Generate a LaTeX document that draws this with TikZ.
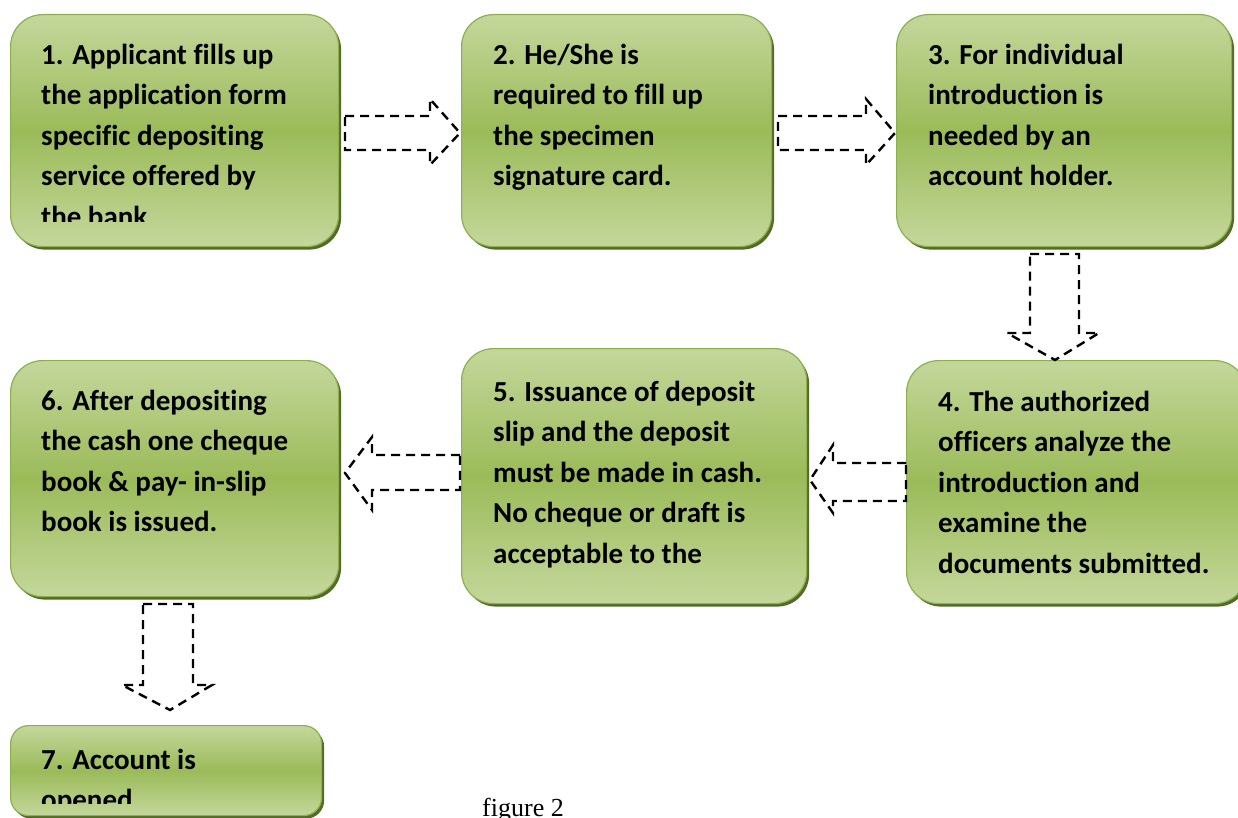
\documentclass[tikz,border=0pt]{standalone}
\usepackage{fontspec}
\newfontfamily\boxfont{Carlito}[Ligatures=CommonOff]
\newfontfamily\capfont{Liberation Serif}
\usetikzlibrary{shadows}
\definecolor{gLight}{RGB}{196,215,155}
\definecolor{gDark}{RGB}{155,187,89}
\definecolor{gEdge}{RGB}{140,176,78}
\definecolor{gShadow}{RGB}{84,106,42}
\tikzset{
  greenbox/.style={draw=gEdge, line width=1.2pt, rounded corners=32pt,
    top color=gLight, bottom color=gLight, middle color=gDark,
    drop shadow={shadow xshift=2.5pt, shadow yshift=-3pt, fill=gShadow, opacity=1},
    inner sep=0pt, anchor=north west},
  boxtext/.style={font=\boxfont\bfseries\fontsize{29}{40.5}\selectfont, align=left,
    inner sep=0pt, anchor=north west, text=black},
  dasharrow/.style={draw=black, line width=2.4pt, dash pattern=on 9pt off 6pt, line join=miter}
}
\begin{document}
\begin{tikzpicture}[x=1pt,y=-1pt]
\useasboundingbox (0,0) rectangle (1238,818);
% boxes
\node[greenbox, minimum width=328pt, minimum height=232pt] (b1) at (10,14) {};
\node[greenbox, minimum width=310pt, minimum height=232pt] (b2) at (461,14) {};
\node[greenbox, minimum width=335pt, minimum height=232pt] (b3) at (896,14) {};
\node[greenbox, minimum width=340pt, minimum height=243pt] (b4) at (906,360) {};
\node[greenbox, minimum width=345pt, minimum height=255pt] (b5) at (461,348) {};
\node[greenbox, minimum width=328pt, minimum height=236pt] (b6) at (10,360) {};
\node[greenbox, rounded corners=18pt, minimum width=311pt, minimum height=90pt] (b7) at (10,725) {};
% texts
\begin{scope}
\clip (10,14) rectangle (338,222);
\node[boxtext] (t1) at (41,64-28.35) {\strut 1. Applicant fills up\\the application form\\specific depositing\\service offered by\\the bank};
\end{scope}
\node[boxtext] (t2) at (493,64-28.35) {\strut 2. He/She is\\required to fill up\\the specimen\\signature card.};
\node[boxtext] (t3) at (928,64-28.35) {\strut 3. For individual\\introduction is\\needed by an\\account holder.};
\node[boxtext] (t4) at (938,411-28.35) {\strut 4. The authorized\\officers analyze the\\introduction and\\examine the\\documents submitted.};
\node[boxtext] (t5) at (493,401-28.35) {\strut 5. Issuance of deposit\\slip and the deposit\\must be made in cash.\\No cheque or draft is\\acceptable to the};
\node[boxtext] (t6) at (41,410-28.35) {\strut 6. After depositing\\the cash one cheque\\book \& pay- in-slip\\book is issued.};
\begin{scope}
\clip (10,725) rectangle (321,803);
\node[boxtext] (t7) at (41,769-28.35) {\strut 7. Account is\\opened};
\end{scope}
% block arrows
\draw[dasharrow] (345,116) -- (430,116) -- (430,99) -- (460,133) -- (430,165) -- (430,150) -- (345,150) -- cycle;
\draw[dasharrow] (778,116) -- (866,116) -- (866,99) -- (895,133) -- (866,165) -- (866,150) -- (778,150) -- cycle;
\draw[dasharrow] (1030,254) -- (1079,254) -- (1079,333) -- (1099,333) -- (1055,360) -- (1007,333) -- (1030,333) -- cycle;
\draw[dasharrow] (906,463) -- (833,463) -- (833,445) -- (810,480) -- (833,513) -- (833,501) -- (906,501) -- cycle;
\draw[dasharrow] (460,455) -- (372,455) -- (372,437) -- (345,473) -- (372,510) -- (372,490) -- (460,490) -- cycle;
\draw[dasharrow] (143,604) -- (193,604) -- (193,685) -- (212,685) -- (170,710) -- (122,685) -- (143,685) -- cycle;
% caption
\node[font=\capfont\fontsize{26}{30}\selectfont, anchor=base west, inner sep=0pt] (cap) at (482,816) {figure 2};
\end{tikzpicture}
\end{document}
